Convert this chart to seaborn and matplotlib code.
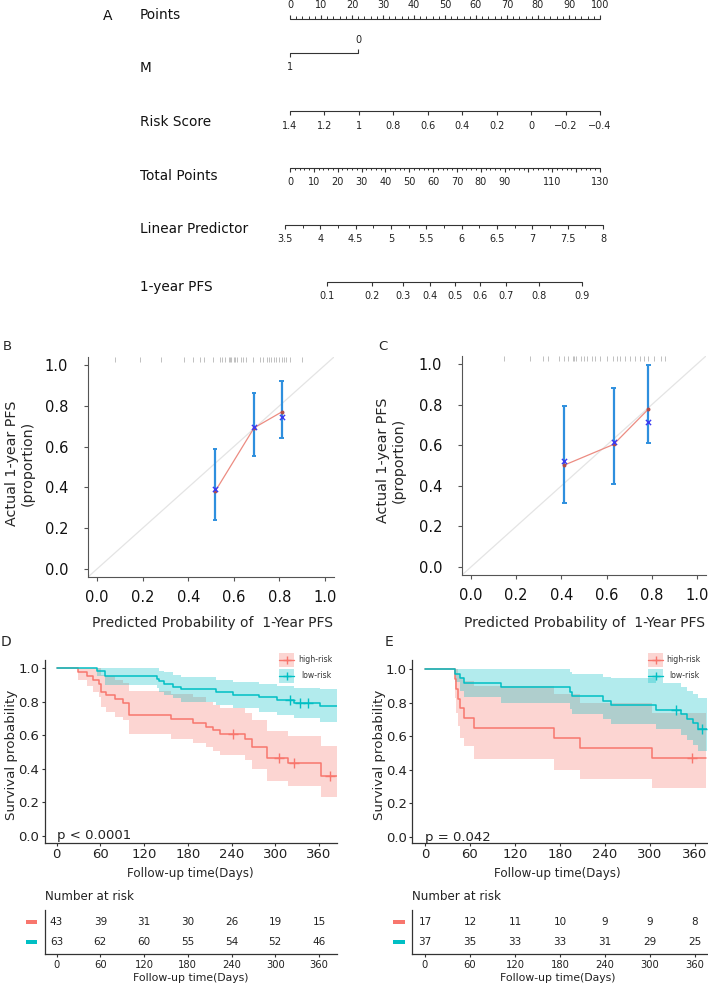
import matplotlib
matplotlib.use("Agg")
import matplotlib.pyplot as plt
import matplotlib.transforms as mtransforms
from matplotlib.patches import Rectangle
from matplotlib.lines import Line2D
import seaborn as sns
import numpy as np

sns.set_theme(style="ticks")
plt.rcParams['font.family'] = ['DejaVu Sans']
plt.rcParams['axes.unicode_minus'] = True

W, H = 708, 989
RED, CYAN = "#F8766D", "#00BFC4"
INK = "#333333"

# ==========================================
# data
# ==========================================
# A: nomogram
points_ticks = list(range(0, 101, 10))
m_labels = ["1", "0"]
m_points = [0, 22]
risk_values = [1.4, 1.2, 1.0, 0.8, 0.6, 0.4, 0.2, 0.0, -0.2, -0.4]
risk_labels = ["1.4", "1.2", "1", "0.8", "0.6", "0.4", "0.2", "0", "\u22120.2", "\u22120.4"]
risk_range = (1.4, -0.4)          # risk score at 0 and 100 points
total_labels = [0, 10, 20, 30, 40, 50, 60, 70, 80, 90, 110, 130]
total_max = 130
lp_values = [3.5, 4, 4.5, 5, 5.5, 6, 6.5, 7, 7.5, 8]
lp_labels = ["3.5", "4", "4.5", "5", "5.5", "6", "6.5", "7", "7.5", "8"]
lp_total_points = (-2.1, 131.3)   # total points at LP = 3.5 and LP = 8
pfs_labels = ["0.1", "0.2", "0.3", "0.4", "0.5", "0.6", "0.7", "0.8", "0.9"]
pfs_total_points = [15.5, 34.4, 47.4, 58.7, 69.2, 79.7, 90.6, 104.4, 122.5]

# B / C: calibration
cal_b_pred = [0.518, 0.689, 0.810]
cal_b_observed = [0.380, 0.692, 0.770]
cal_b_corrected = [0.392, 0.695, 0.747]
cal_b_low = [0.241, 0.555, 0.641]
cal_b_high = [0.589, 0.861, 0.922]
cal_b_rug = [0.08, 0.19, 0.28, 0.38, 0.42, 0.45, 0.47, 0.51, 0.54, 0.55, 0.56, 0.58,
             0.585, 0.59, 0.60, 0.605, 0.615, 0.63, 0.64, 0.655, 0.685, 0.715, 0.73,
             0.745, 0.755, 0.765, 0.775, 0.785, 0.80, 0.81, 0.82, 0.83, 0.845, 0.90]

cal_c_pred = [0.413, 0.631, 0.785]
cal_c_observed = [0.502, 0.604, 0.778]
cal_c_corrected = [0.521, 0.617, 0.715]
cal_c_low = [0.316, 0.411, 0.609]
cal_c_high = [0.794, 0.883, 0.998]
cal_c_rug = [0.145, 0.26, 0.32, 0.34, 0.39, 0.41, 0.43, 0.45, 0.455, 0.465, 0.485, 0.50,
             0.515, 0.535, 0.55, 0.57, 0.60, 0.63, 0.645, 0.66, 0.68, 0.705, 0.725, 0.75,
             0.765, 0.785, 0.81, 0.84, 0.86]

# D: KM training
d_hi_time = [0, 29, 42, 50, 58, 61, 68, 80, 91, 100, 157, 187, 205, 215, 224, 258, 268, 288, 318, 363, 384]
d_hi_surv = [1.0, 0.977, 0.953, 0.930, 0.907, 0.860, 0.837, 0.814, 0.790, 0.720, 0.698, 0.674,
             0.651, 0.628, 0.605, 0.578, 0.532, 0.462, 0.432, 0.355, 0.355]
d_hi_low = [1.0, 0.93, 0.89, 0.86, 0.83, 0.77, 0.74, 0.71, 0.69, 0.605, 0.58, 0.555,
            0.53, 0.505, 0.48, 0.45, 0.40, 0.33, 0.30, 0.235, 0.235]
d_hi_up = [1.0, 1.0, 1.0, 1.0, 1.0, 0.96, 0.95, 0.93, 0.91, 0.865, 0.845, 0.83,
           0.80, 0.78, 0.76, 0.735, 0.69, 0.625, 0.595, 0.535, 0.535]
d_hi_cens = [242, 305, 325, 375]

d_lo_time = [0, 55, 66, 138, 141, 147, 160, 171, 219, 242, 277, 302, 325, 361, 385]
d_lo_surv = [1.0, 0.984, 0.952, 0.936, 0.920, 0.905, 0.889, 0.873, 0.857, 0.841, 0.825,
             0.810, 0.793, 0.776, 0.776]
d_lo_low = [1.0, 0.955, 0.90, 0.88, 0.86, 0.84, 0.82, 0.80, 0.78, 0.76, 0.74, 0.72, 0.70, 0.68, 0.68]
d_lo_up = [1.0, 1.0, 1.0, 1.0, 0.985, 0.975, 0.96, 0.945, 0.93, 0.915, 0.905, 0.89, 0.88, 0.875, 0.875]
d_lo_cens = [320, 334, 345]

# E: KM validation
e_hi_time = [0, 40, 42, 44, 47, 51.5, 65, 172, 207, 303, 375]
e_hi_surv = [1.0, 0.941, 0.882, 0.824, 0.765, 0.706, 0.647, 0.588, 0.529, 0.471, 0.471]
e_hi_low = [1.0, 0.83, 0.74, 0.66, 0.59, 0.54, 0.465, 0.40, 0.345, 0.29, 0.29]
e_hi_up = [1.0, 1.0, 1.0, 0.97, 0.95, 0.93, 0.90, 0.85, 0.80, 0.74, 0.74]
e_hi_cens = [356]

e_lo_time = [0, 40, 47, 52, 101, 193, 196, 237, 248, 308, 341, 350, 357, 364, 376]
e_lo_surv = [1.0, 0.973, 0.946, 0.919, 0.892, 0.865, 0.838, 0.811, 0.784, 0.757, 0.730,
             0.703, 0.676, 0.643, 0.643]
e_lo_low = [1.0, 0.92, 0.87, 0.835, 0.80, 0.76, 0.73, 0.70, 0.675, 0.645, 0.61, 0.58, 0.55, 0.51, 0.51]
e_lo_up = [1.0, 1.0, 1.0, 1.0, 1.0, 0.985, 0.97, 0.955, 0.945, 0.915, 0.89, 0.87, 0.85, 0.83, 0.83]
e_lo_cens = [335, 370]

risk_days = [0, 60, 120, 180, 240, 300, 360]
d_risk_hi = [43, 39, 31, 30, 26, 19, 15]
d_risk_lo = [63, 62, 60, 55, 54, 52, 46]
e_risk_hi = [17, 12, 11, 10, 9, 9, 8]
e_risk_lo = [37, 35, 33, 33, 31, 29, 25]

group_labels = ["high-risk", "low-risk"]

# ==========================================
fig = plt.figure(figsize=(W / 100, H / 100), dpi=100)


def fig_box(x0, y0, x1, y1):
    return [x0 / W, 1 - y1 / H, (x1 - x0) / W, (y1 - y0) / H]


def ftext(x, y, s, **kw):
    fig.text(x / W, 1 - y / H, s, **kw)


# ==========================================
# A. nomogram (x in "points", y in pixel rows)
# ==========================================
PX, X0 = 3.1, 290
axA = fig.add_axes(fig_box(0, 0, W, 310))
axA.set_xlim(-X0 / PX, (W - X0) / PX)
axA.set_ylim(310, 0)
axA.axis("off")


def nomo_scale(y, major, labels, label_y, direction=1, minor=None, major_len=4.0, minor_len=2.5):
    allx = list(major) + (list(minor) if minor is not None else [])
    axA.plot([min(allx), max(allx)], [y, y], color=INK, lw=0.8)
    axA.vlines(major, y, y + direction * major_len, color=INK, lw=0.8)
    if minor is not None:
        axA.vlines(minor, y, y + direction * minor_len, color=INK, lw=0.7)
    for x, t in labels:
        axA.text(x, label_y, t, ha="center", va="center", fontsize=7, color="#222")


def row_name(y, name):
    axA.text((140 - X0) / PX, y, name, ha="left", va="center", fontsize=9.8, color="#111")


axA.text((103 - X0) / PX, 16, "A", ha="left", va="center", fontsize=10, color="#111")

# Points
row_name(15, "Points")
pt_minor = [v for v in range(0, 101, 2) if v % 10]
nomo_scale(18.5, points_ticks, [(p, str(p)) for p in points_ticks], 5, direction=-1, minor=pt_minor)

# M
row_name(68, "M")
axA.plot(m_points, [53, 53], color=INK, lw=0.8)
axA.vlines(m_points[0], 53, 57, color=INK, lw=0.8)
axA.vlines(m_points[1], 53, 49, color=INK, lw=0.8)
axA.text(m_points[0], 67, m_labels[0], ha="center", va="center", fontsize=7, color="#222")
axA.text(m_points[1], 40, m_labels[1], ha="center", va="center", fontsize=7, color="#222")

# Risk Score
row_name(122, "Risk Score")
risk_pos = [(risk_range[0] - r) / (risk_range[0] - risk_range[1]) * 100 for r in risk_values]
nomo_scale(110.5, risk_pos, list(zip(risk_pos, risk_labels)), 126)

# Total Points
row_name(176, "Total Points")
tp_major = [v * 100 / total_max for v in range(0, total_max + 1, 10)]
tp_minor = [v * 100 / total_max for v in range(0, total_max + 1, 2) if v % 10]
nomo_scale(168, tp_major, [(v * 100 / total_max, str(v)) for v in total_labels], 182,
           minor=tp_minor, major_len=3.5, minor_len=2.2)


def lp_to_points(lp):
    a, b = lp_total_points
    tp = a + (lp - lp_values[0]) / (lp_values[-1] - lp_values[0]) * (b - a)
    return tp * 100 / total_max


# Linear Predictor
row_name(229, "Linear Predictor")
lp_pos = [lp_to_points(v) for v in lp_values]
lp_minor = [lp_to_points(v + 0.25) for v in lp_values[:-1]]
nomo_scale(225, lp_pos, list(zip(lp_pos, lp_labels)), 239, minor=lp_minor)

# 1-year PFS
row_name(287, "1-year PFS")
pfs_pos = [v * 100 / total_max for v in pfs_total_points]
nomo_scale(282, pfs_pos, list(zip(pfs_pos, pfs_labels)), 296)


# ==========================================
# B / C. calibration curves
# ==========================================
def calib_panel(box, pred, observed, corrected, low, high, rug):
    ax = fig.add_axes(fig_box(*box))
    ax.plot([-0.04, 1.04], [-0.04, 1.04], color="#e4e4e4", lw=0.9, zorder=1)
    ax.vlines(rug, 1.015, 1.04, color="#b5b5b5", lw=0.6, zorder=1)
    ax.vlines(pred, low, high, color="#2E8FDE", lw=1.6, zorder=2)
    ax.hlines(low + high, [p - 0.01 for p in pred] * 2, [p + 0.01 for p in pred] * 2,
              color="#2E8FDE", lw=1.4, zorder=2)
    sns.lineplot(x=pred, y=observed, color="#EC8C82", lw=0.9, ax=ax, estimator=None,
                 sort=False, legend=False, zorder=3)
    sns.scatterplot(x=pred, y=observed, color="#B24B48", s=8, ax=ax, legend=False,
                    zorder=4, linewidth=0)
    sns.scatterplot(x=pred, y=corrected, color="#3B3BF2", marker="x", s=14, ax=ax,
                    legend=False, zorder=5, linewidth=1.0)
    ax.set_xlim(-0.04, 1.04)
    ax.set_ylim(-0.04, 1.04)
    ticks = np.arange(0, 1.01, 0.2)
    ax.set_xticks(ticks)
    ax.set_yticks(ticks)
    ax.set_xticklabels([f"{t:.1f}" for t in ticks])
    ax.set_yticklabels([f"{t:.1f}" for t in ticks])
    for s in ["top", "right"]:
        ax.spines[s].set_visible(False)
    for s in ["left", "bottom"]:
        ax.spines[s].set_color("#555555")
        ax.spines[s].set_linewidth(0.8)
    ax.tick_params(axis="both", length=3.2, width=0.8, color="#555555", labelsize=10.5,
                   labelcolor="#111")
    ax.tick_params(axis="x", pad=6.5)
    ax.tick_params(axis="y", pad=11)
    ax.set_xlabel("")
    ax.set_ylabel("")
    ax.set_facecolor("white")
    return ax


calib_panel((88, 357, 334, 577), cal_b_pred, cal_b_observed, cal_b_corrected,
            cal_b_low, cal_b_high, cal_b_rug)
calib_panel((462, 356, 706, 575), cal_c_pred, cal_c_observed, cal_c_corrected,
            cal_c_low, cal_c_high, cal_c_rug)

ftext(3, 346, "B", fontsize=9.5, va="center", ha="left")
ftext(378, 346, "C", fontsize=9.5, va="center", ha="left")
ftext(20, 463, "Actual 1-year PFS\n(proportion)", rotation=90, fontsize=10.3,
      ha="center", va="center", multialignment="center")
ftext(391, 460, "Actual 1-year PFS\n(proportion)", rotation=90, fontsize=10.3,
      ha="center", va="center", multialignment="center")
ftext(213, 623, "Predicted Probability of  1-Year PFS", fontsize=10, ha="center", va="center")
ftext(585, 623, "Predicted Probability of  1-Year PFS", fontsize=10, ha="center", va="center")


# ==========================================
# D / E. Kaplan-Meier curves
# ==========================================
def km_panel(box, xlim, ylim, curves, pval):
    ax = fig.add_axes(fig_box(*box))
    for times, surv, low, up, cens, color in curves:
        ax.fill_between(times, low, up, step="post", color=color, alpha=0.3, lw=0)
    for times, surv, low, up, cens, color in curves:
        sns.lineplot(x=np.array(times, float), y=np.array(surv), drawstyle="steps-post",
                     color=color, lw=1.1, ax=ax, estimator=None, sort=False, legend=False)
        idx = np.searchsorted(times, cens, side="right") - 1
        ax.plot(cens, np.array(surv)[idx], ls="none", marker="+", ms=6.5, mew=1.0, color=color)
    ax.text(0, 0.0, pval, ha="left", va="center", fontsize=9.5, color="#222")
    ax.set_xlim(*xlim)
    ax.set_ylim(*ylim)
    ax.set_xticks(risk_days)
    yt = np.arange(0, 1.01, 0.2)
    ax.set_yticks(yt)
    ax.set_yticklabels([f"{t:.1f}" for t in yt])
    for s in ["top", "right"]:
        ax.spines[s].set_visible(False)
    for s in ["left", "bottom"]:
        ax.spines[s].set_color(INK)
        ax.spines[s].set_linewidth(0.9)
    ax.tick_params(axis="both", length=2.2, width=0.8, color=INK, labelsize=9.5,
                   labelcolor="#222", pad=1.5)
    ax.set_xlabel("")
    ax.set_ylabel("")
    ax.set_facecolor("white")
    return ax


km_panel((44.5, 660, 337, 843), (-16.5, 384.6), (-0.0417, 1.0476),
         [(d_hi_time, d_hi_surv, d_hi_low, d_hi_up, d_hi_cens, RED),
          (d_lo_time, d_lo_surv, d_lo_low, d_lo_up, d_lo_cens, CYAN)], "p < 0.0001")
km_panel((412, 660, 707, 843), (-17.3, 376), (-0.0357, 1.0536),
         [(e_hi_time, e_hi_surv, e_hi_low, e_hi_up, e_hi_cens, RED),
          (e_lo_time, e_lo_surv, e_lo_low, e_lo_up, e_lo_cens, CYAN)], "p = 0.042")

ftext(1, 642, "D", fontsize=10, va="center", ha="left")
ftext(385, 642, "E", fontsize=10, va="center", ha="left")
ftext(12, 755, "Survival probability", rotation=90, fontsize=9.6, ha="center", va="center")
ftext(379, 755, "Survival probability", rotation=90, fontsize=9.6, ha="center", va="center")
ftext(190, 874, "Follow-up time(Days)", fontsize=8.6, ha="center", va="center")
ftext(557, 874, "Follow-up time(Days)", fontsize=8.6, ha="center", va="center")


def km_legend(px, text_x):
    for (yc, color, label, tx) in [(660, RED, group_labels[0], text_x[0]),
                                   (676, CYAN, group_labels[1], text_x[1])]:
        fig.add_artist(Rectangle((px / W, 1 - (yc + 7) / H), 15 / W, 14 / H,
                                 transform=fig.transFigure, facecolor=color, alpha=0.3, lw=0))
        fig.add_artist(Line2D([px / W, (px + 15) / W], [1 - yc / H] * 2,
                              transform=fig.transFigure, color=color, lw=1.0))
        fig.add_artist(Line2D([(px + 7.5) / W], [1 - yc / H], marker="+", ms=6, mew=1.0,
                              color=color, transform=fig.transFigure))
        ftext(tx, yc, label, fontsize=5.6, va="center", ha="left", color="#333")


km_legend(279, (298, 301))
km_legend(648, (666, 669))


# ==========================================
# risk tables
# ==========================================
def risk_table(box, xlim, counts_hi, counts_lo, strip_px):
    ax = fig.add_axes(fig_box(*box))
    ax.set_xlim(*xlim)
    ax.set_ylim(0.4, 2.6)
    for d, n in zip(risk_days, counts_hi):
        ax.text(d, 2, str(n), ha="center", va="center", fontsize=7.5, color="#222")
    for d, n in zip(risk_days, counts_lo):
        ax.text(d, 1, str(n), ha="center", va="center", fontsize=7.5, color="#222")
    ax.set_xticks(risk_days)
    ax.set_yticks([])
    for s in ["top", "right"]:
        ax.spines[s].set_visible(False)
    for s in ["left", "bottom"]:
        ax.spines[s].set_color(INK)
        ax.spines[s].set_linewidth(0.9)
    ax.tick_params(axis="x", length=2.2, width=0.8, color=INK, labelsize=7.2,
                   labelcolor="#222", pad=2)
    width_px = box[2] - box[0]
    trans = mtransforms.blended_transform_factory(ax.transAxes, ax.transData)
    for yv, color in [(2, RED), (1, CYAN)]:
        ax.add_patch(Rectangle(((strip_px[0] - box[0]) / width_px, yv - 0.11),
                               (strip_px[1] - strip_px[0]) / width_px, 0.22,
                               transform=trans, facecolor=color, lw=0, clip_on=False))
    ax.set_facecolor("white")
    return ax


risk_table((44.5, 910, 337, 954), (-16.5, 384.6), d_risk_hi, d_risk_lo, (26, 37))
risk_table((412, 910, 707, 954), (-17.3, 376), e_risk_hi, e_risk_lo, (393, 405))

ftext(45, 897, "Number at risk", fontsize=8.6, ha="left", va="center", color="#222")
ftext(412, 897, "Number at risk", fontsize=8.6, ha="left", va="center", color="#222")
ftext(191, 978, "Follow-up time(Days)", fontsize=7.8, ha="center", va="center", color="#222")
ftext(558, 978, "Follow-up time(Days)", fontsize=7.8, ha="center", va="center", color="#222")

fig.savefig("out.png", dpi=100, facecolor="white")
